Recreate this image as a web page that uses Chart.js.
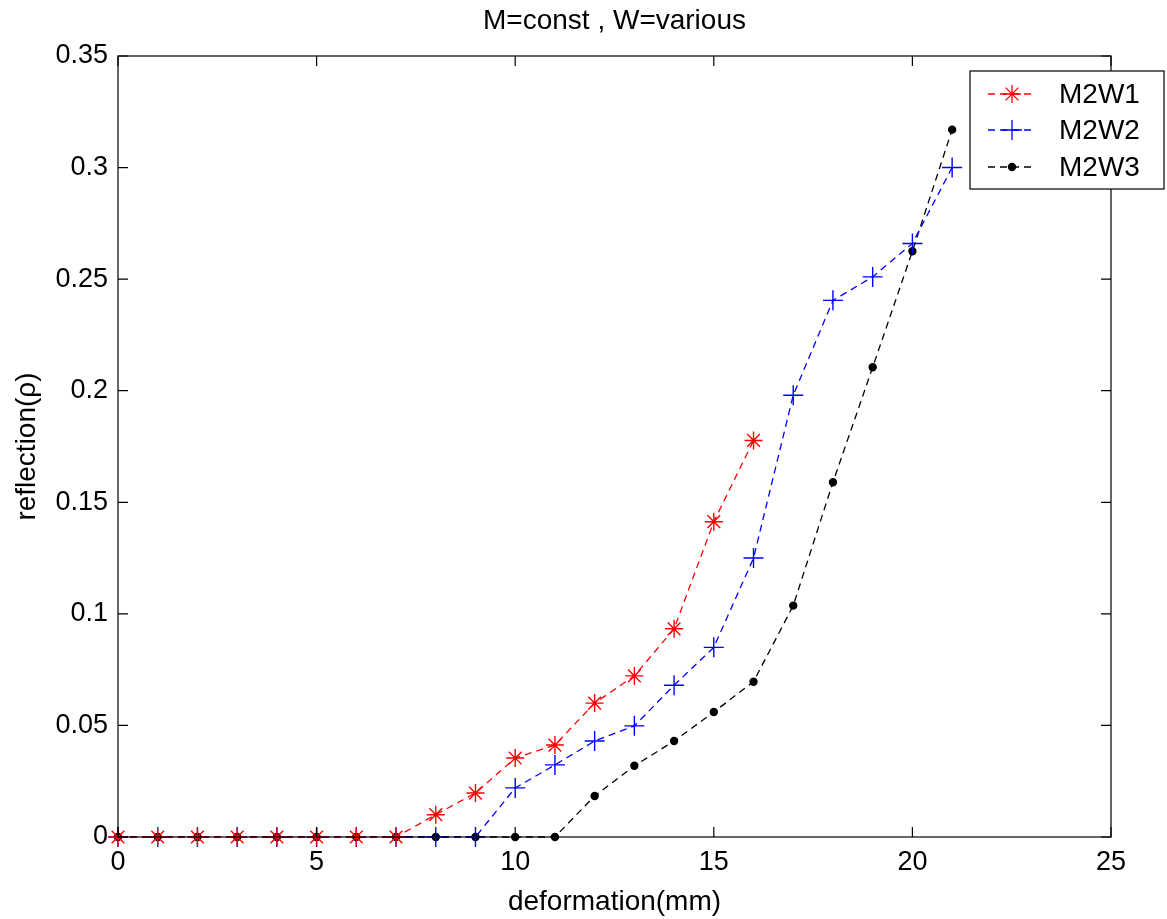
<!DOCTYPE html>
<html>
<head>
<meta charset="utf-8">
<script src="https://cdn.jsdelivr.net/npm/chart.js@4.4.1/dist/chart.umd.min.js"></script>
<style>
  html, body { margin: 0; padding: 0; background: #fff; }
  #wrap { width: 1167px; height: 919px; }
</style>
</head>
<body>
<div id="wrap"><canvas id="chart" width="1167" height="919"></canvas></div>
<script>
// deformation (mm) and reflection values
const deformation = [0, 1, 2, 3, 4, 5, 6, 7, 8, 9, 10, 11, 12, 13, 14, 15, 16, 17, 18, 19, 20, 21];
const m2w1 = [0, 0, 0, 0, 0, 0, 0, 0, 0.010, 0.0197, 0.0354, 0.0412, 0.060, 0.0722, 0.0933, 0.1413, 0.1777];
const m2w2 = [0, 0, 0, 0, 0, 0, 0, 0, 0, 0, 0.022, 0.0323, 0.043, 0.0498, 0.068, 0.085, 0.125, 0.198, 0.2405, 0.251, 0.266, 0.300];
const m2w3 = [0, 0, 0, 0, 0, 0, 0, 0, 0, 0, 0, 0, 0.0184, 0.0319, 0.043, 0.056, 0.0696, 0.1037, 0.159, 0.2105, 0.2625, 0.317];
const seriesNames = ['M2W1', 'M2W2', 'M2W3'];
const xTicks = [0, 5, 10, 15, 20, 25];
const yTicks = [0, 0.05, 0.1, 0.15, 0.2, 0.25, 0.3, 0.35];

const FONT = '"Liberation Sans", Arial, sans-serif';

function pts(ys) {
  return ys.map((y, i) => ({ x: deformation[i], y: y }));
}

const styles = [
  { color: '#ff0000', point: 'star', radius: 9 },
  { color: '#0000ff', point: 'cross', radius: 10 },
  { color: '#000000', point: 'circle', radius: 3.5 }
];

const datasets = [m2w1, m2w2, m2w3].map((ys, i) => ({
  label: seriesNames[i],
  data: pts(ys),
  borderColor: styles[i].color,
  backgroundColor: styles[i].color,
  borderWidth: 1.3,
  borderDash: [7, 5],
  pointStyle: styles[i].point,
  pointRadius: styles[i].radius,
  pointBorderWidth: 1.4,
  pointHoverRadius: styles[i].radius,
  tension: 0,
  fill: false,
  clip: false
}));

// matlab style box, inward ticks, titles and legend
const matlabFrame = {
  id: 'matlabFrame',
  afterDraw(chart) {
    const ctx = chart.ctx;
    const a = chart.chartArea;
    const xs = chart.scales.x, ys = chart.scales.y;
    ctx.save();
    ctx.strokeStyle = '#000';
    ctx.lineWidth = 1.2;
    ctx.strokeRect(a.left, a.top, a.right - a.left, a.bottom - a.top);
    ctx.beginPath();
    xTicks.forEach(v => {
      const px = xs.getPixelForValue(v);
      ctx.moveTo(px, a.bottom); ctx.lineTo(px, a.bottom - 10);
      ctx.moveTo(px, a.top); ctx.lineTo(px, a.top + 10);
    });
    yTicks.forEach(v => {
      const py = ys.getPixelForValue(v);
      ctx.moveTo(a.left, py); ctx.lineTo(a.left + 10, py);
      ctx.moveTo(a.right, py); ctx.lineTo(a.right - 10, py);
    });
    ctx.stroke();

    // title + axis titles
    ctx.fillStyle = '#000';
    ctx.textAlign = 'center';
    ctx.textBaseline = 'middle';
    ctx.font = '28px ' + FONT;
    ctx.fillText('M=const , W=various', (a.left + a.right) / 2, 21);
    ctx.fillText('deformation(mm)', (a.left + a.right) / 2, 902);
    ctx.save();
    ctx.translate(27, (a.top + a.bottom) / 2);
    ctx.rotate(-Math.PI / 2);
    ctx.fillText('reflection(\u03c1)', 0, 0);
    ctx.restore();

    // legend box
    const bx = 970, by = 71, bw = 194, bh = 118;
    ctx.fillStyle = '#fff';
    ctx.fillRect(bx, by, bw, bh);
    ctx.lineWidth = 1.2;
    ctx.strokeStyle = '#000';
    ctx.strokeRect(bx, by, bw, bh);
    const rows = [94, 130, 167];
    chart.data.datasets.forEach((ds, i) => {
      const y = rows[i];
      ctx.save();
      ctx.strokeStyle = ds.borderColor;
      ctx.lineWidth = 1.3;
      ctx.setLineDash([7, 5]);
      ctx.beginPath();
      ctx.moveTo(988, y); ctx.lineTo(1036, y);
      ctx.stroke();
      ctx.setLineDash([]);
      Chart.helpers.drawPoint(ctx, {
        pointStyle: ds.pointStyle,
        radius: ds.pointRadius,
        borderWidth: 1.4,
        rotation: 0
      }, 1012, y);
      ctx.restore();
      ctx.fillStyle = '#000';
      ctx.textAlign = 'left';
      ctx.textBaseline = 'middle';
      ctx.font = '28px ' + FONT;
      ctx.fillText(ds.label, 1059, y + 1);
    });
    ctx.restore();
  }
};

new Chart(document.getElementById('chart').getContext('2d'), {
  type: 'line',
  data: { datasets: datasets },
  options: {
    responsive: false,
    animation: false,
    layout: { padding: { top: 56, right: 56, left: 0, bottom: 0 } },
    plugins: {
      legend: { display: false },
      title: { display: false },
      tooltip: { enabled: false }
    },
    scales: {
      x: {
        type: 'linear',
        min: 0,
        max: 25,
        afterBuildTicks: s => { s.ticks = xTicks.map(v => ({ value: v })); },
        ticks: { color: '#000', font: { family: FONT, size: 27 }, padding: 9, maxRotation: 0 },
        grid: { display: false, drawTicks: false },
        border: { display: false },
        afterFit: s => { s.height = 82; }
      },
      y: {
        type: 'linear',
        min: 0,
        max: 0.35,
        afterBuildTicks: s => { s.ticks = yTicks.map(v => ({ value: v })); },
        ticks: {
          color: '#000',
          font: { family: FONT, size: 27 },
          padding: 10,
          callback: v => String(+v.toFixed(2))
        },
        grid: { display: false, drawTicks: false },
        border: { display: false },
        afterFit: s => { s.width = 118; }
      }
    }
  },
  plugins: [matlabFrame]
});
</script>
</body>
</html>
